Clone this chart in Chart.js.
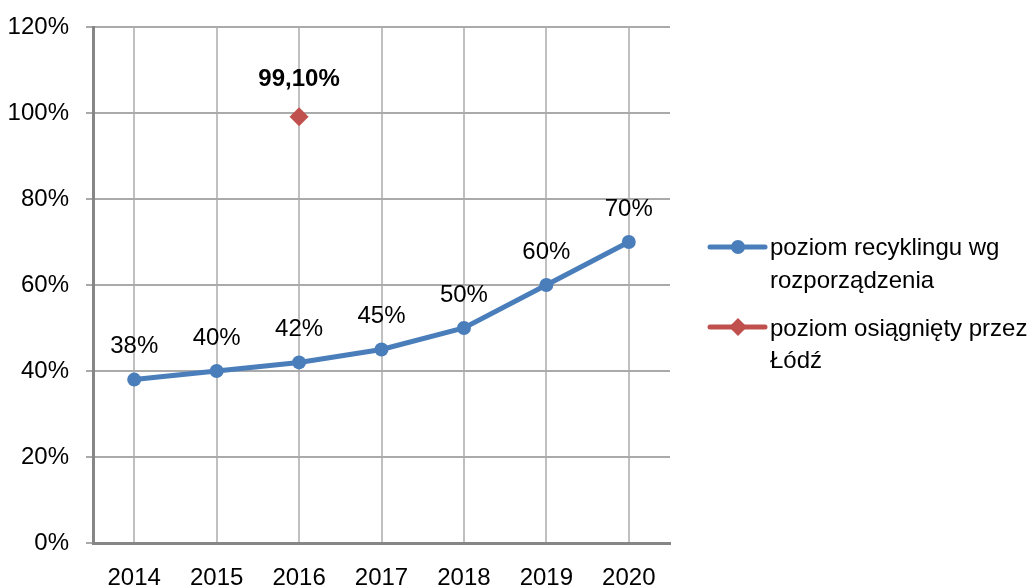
<!DOCTYPE html>
<html lang="pl">
<head>
<meta charset="utf-8">
<title>Poziom recyklingu</title>
<script src="https://cdn.jsdelivr.net/npm/chart.js@4.4.1/dist/chart.umd.min.js"></script>
<style>
  html, body { margin: 0; padding: 0; background: #ffffff; }
  #wrap { width: 1032px; height: 585px; position: relative; }
</style>
</head>
<body>
<div id="wrap">
  <canvas id="recyklingChart"></canvas>
</div>
<script>
// dane z wykresu
const lata = ['2014', '2015', '2016', '2017', '2018', '2019', '2020'];
const poziomRozporzadzenie = [38, 40, 42, 45, 50, 60, 70];
const poziomLodz = [null, null, 99.1, null, null, null, null];
const etykietyOsi = [0, 20, 40, 60, 80, 100, 120];

const nazwy = [
    ['poziom recyklingu wg', 'rozporządzenia'],
    ['poziom osiągnięty przez', 'Łódź']
];

const NIEBIESKI = '#4a7ebb';
const CZERWONY = '#c0504d';
const FONT = '"Liberation Sans", Arial, sans-serif';

// etykiety danych nad punktami
const etykietyDanych = {
    id: 'etykietyDanych',
    afterDatasetsDraw(chart) {
        const ctx = chart.ctx;
        ctx.save();
        ctx.fillStyle = '#000000';
        ctx.textAlign = 'center';
        ctx.textBaseline = 'middle';
        chart.data.datasets.forEach((ds, i) => {
            const meta = chart.getDatasetMeta(i);
            meta.data.forEach((pt, j) => {
                const v = ds.data[j];
                if (v === null || v === undefined) return;
                if (i === 1) {
                    ctx.font = 'bold 24px ' + FONT;
                    ctx.fillText(v.toFixed(2).replace('.', ',') + '%', pt.x, pt.y - 37);
                } else {
                    ctx.font = '24px ' + FONT;
                    ctx.fillText(v + '%', pt.x, pt.y - 33);
                }
            });
        });
        ctx.restore();
    }
};

// legenda jak w Excelu: linia z markerem + tekst w dwóch wierszach
const legendaExcel = {
    id: 'legendaExcel',
    afterDraw(chart) {
        const ctx = chart.ctx;
        const x0 = chart.chartArea.right + 40;
        const pozycje = [{ y: 247, base: [255, 288] }, { y: 327, base: [336, 368] }];
        ctx.save();
        pozycje.forEach((p, i) => {
            const kolor = i === 0 ? NIEBIESKI : CZERWONY;
            ctx.strokeStyle = kolor;
            ctx.fillStyle = kolor;
            ctx.lineWidth = 5;
            ctx.lineCap = 'round';
            ctx.beginPath();
            ctx.moveTo(x0, p.y);
            ctx.lineTo(x0 + 55, p.y);
            ctx.stroke();
            const cx = x0 + 28;
            ctx.beginPath();
            if (i === 0) {
                ctx.arc(cx, p.y, 7, 0, Math.PI * 2);
            } else {
                ctx.moveTo(cx - 9, p.y);
                ctx.lineTo(cx, p.y - 9);
                ctx.lineTo(cx + 9, p.y);
                ctx.lineTo(cx, p.y + 9);
                ctx.closePath();
            }
            ctx.fill();

            ctx.fillStyle = '#000000';
            ctx.font = '24px ' + FONT;
            ctx.textAlign = 'left';
            ctx.textBaseline = 'alphabetic';
            nazwy[i].forEach((linia, k) => {
                ctx.fillText(linia, x0 + 60, p.base[k]);
            });
        });
        ctx.restore();
    }
};

const ctx = document.getElementById('recyklingChart').getContext('2d');
const myChart = new Chart(ctx, {
    type: 'line',
    data: {
        labels: lata,
        datasets: [{
            label: nazwy[0].join(' '),
            data: poziomRozporzadzenie,
            borderColor: NIEBIESKI,
            backgroundColor: NIEBIESKI,
            borderWidth: 5,
            pointRadius: 7,
            pointHoverRadius: 7,
            pointBorderWidth: 0,
            pointBackgroundColor: NIEBIESKI,
            tension: 0
        }, {
            label: nazwy[1].join(' '),
            data: poziomLodz,
            borderColor: CZERWONY,
            backgroundColor: CZERWONY,
            borderWidth: 5,
            pointStyle: 'rectRot',
            pointRadius: 9.5,
            pointHoverRadius: 9.5,
            pointBorderWidth: 0,
            pointBackgroundColor: CZERWONY
        }]
    },
    options: {
        responsive: true,
        maintainAspectRatio: false,
        animation: false,
        layout: { padding: { top: 27, right: 362, left: 0, bottom: 0 } },
        plugins: {
            legend: { display: false },
            tooltip: { enabled: false }
        },
        scales: {
            x: {
                offset: true,
                grid: { color: '#c0c0c0', lineWidth: 2, drawTicks: false, offset: false },
                border: { color: '#868686', width: 3 },
                ticks: { color: '#000000', font: { family: FONT, size: 24 }, padding: 21, maxRotation: 0 },
                afterFit(scale) { scale.height = 42; }
            },
            y: {
                min: etykietyOsi[0],
                max: etykietyOsi[etykietyOsi.length - 1],
                afterBuildTicks(scale) { scale.ticks = etykietyOsi.map(v => ({ value: v })); },
                grid: { color: '#aaaaaa', lineWidth: 2, tickLength: 7 },
                border: { color: '#868686', width: 3 },
                ticks: {
                    color: '#000000',
                    font: { family: FONT, size: 24 },
                    padding: 17,
                    callback: (v) => v + '%'
                },
                afterFit(scale) {
                    scale.width = 93;
                    // etykieta 120% mieści się w górnym marginesie
                    scale.paddingTop = 0;
                    scale.paddingBottom = 0;
                }
            }
        }
    },
    plugins: [etykietyDanych, legendaExcel]
});
</script>
</body>
</html>
